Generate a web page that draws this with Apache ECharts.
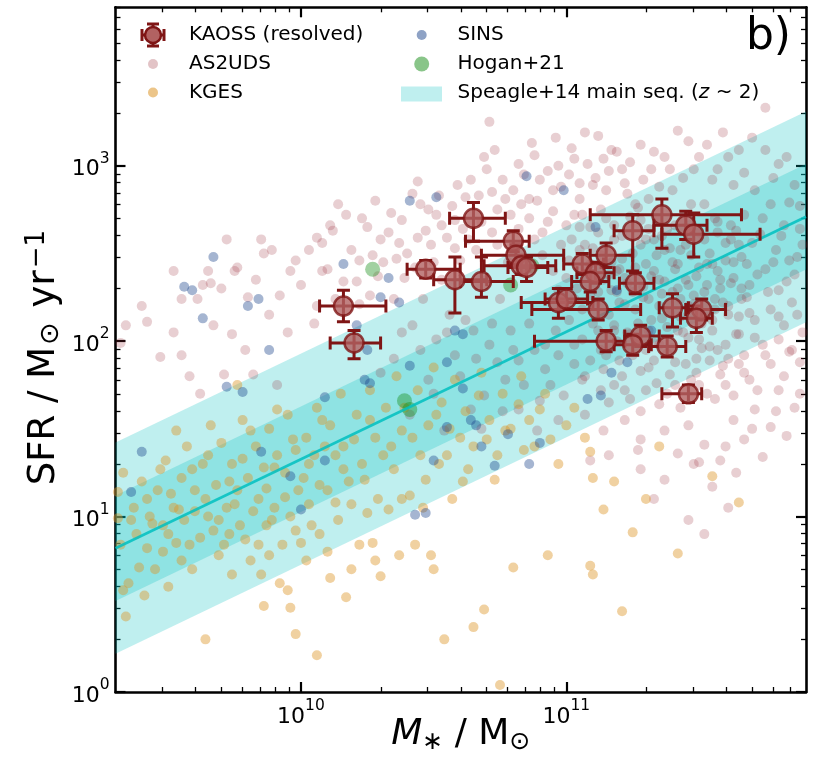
<!DOCTYPE html>
<html><head><meta charset="utf-8">
<script src="https://cdn.jsdelivr.net/npm/echarts@6/dist/echarts.min.js"></script>
<style>html,body{margin:0;padding:0;background:#fff}#c{width:813px;height:760px}</style>
</head><body><div id="c"></div>
<script>
// ---------- DATA (log10 M*, log10 SFR) ----------
const xMajorTicks = [1e10, 1e11];
const xMajorLabels = {'10000000000':'10', '100000000000':'11'};
const xMinorTicks = [3e9,4e9,5e9,6e9,7e9,8e9,9e9,2e10,3e10,4e10,5e10,6e10,7e10,8e10,9e10,2e11,3e11,4e11,5e11,6e11,7e11];
const yMajorTicks = [1, 10, 100, 1000];
const yMajorLabels = {'1':'0','10':'1','100':'2','1000':'3'};
const yMinorTicks = [2,3,4,5,6,7,8,9,20,30,40,50,60,70,80,90,200,300,400,500,600,700,800,900,2000,3000,4000,5000,6000,7000,8000];

// Speagle+14 main sequence (z~2)
const msMass = [2e9, 8e11];
const msSFR = [6.6, 512];
const msInnerLo = [3.3, 256];
const msInnerHi = [13.2, 1022];
const msOuterLo = [1.65, 128];
const msOuterHi = [26.4, 2040];

// KAOSS: logM, logSFR, logM_lo, logM_hi, logSFR_lo, logSFR_hi
const kaoss = [
[10.65,2.70,10.56,10.77,2.57,2.79],[10.16,2.20,10.07,10.32,2.11,2.29],[10.20,1.99,10.11,10.30,1.90,2.06],
[10.47,2.41,10.40,10.60,2.36,2.46],[10.58,2.35,10.50,10.70,2.16,2.48],[10.68,2.34,10.60,10.80,2.25,2.48],
[10.80,2.57,10.62,10.86,2.51,2.63],[10.81,2.49,10.68,10.99,2.44,2.55],[10.83,2.43,10.69,10.96,2.38,2.48],
[10.85,2.42,10.78,10.93,2.34,2.48],[11.36,2.72,11.09,11.66,2.53,2.81],[11.45,2.66,11.33,11.53,2.58,2.74],
[11.48,2.61,11.36,11.73,2.48,2.73],[11.25,2.63,11.18,11.33,2.40,2.72],[11.15,2.49,11.09,11.25,2.42,2.56],
[11.06,2.44,10.99,11.14,2.38,2.50],[11.11,2.39,11.04,11.18,2.33,2.45],[11.09,2.34,11.02,11.16,2.28,2.40],
[11.26,2.33,11.20,11.33,2.27,2.39],[10.97,2.22,10.83,11.10,2.13,2.30],[11.00,2.24,10.92,11.08,2.18,2.30],
[11.12,2.18,10.87,11.28,2.12,2.24],[11.40,2.19,11.35,11.46,2.08,2.27],[11.51,2.18,11.45,11.60,2.12,2.24],
[11.49,2.13,11.43,11.55,2.05,2.20],[11.15,2.00,10.88,11.22,1.94,2.06],[11.28,2.03,11.22,11.35,1.97,2.09],
[11.25,1.98,11.18,11.32,1.92,2.04],[11.38,1.97,11.31,11.45,1.91,2.03],[11.46,1.70,11.36,11.51,1.65,1.75]
];

const as2uds = [
[9.34,2.09],[9.42,2.11],[9.55,1.92],[9.55,2.24],[9.61,2.24],[9.65,2.40],[9.66,2.33],[9.75,2.40],[9.76,2.42],
[9.67,2.09],[9.74,2.04],[9.79,1.95],[9.86,2.50],[9.89,2.52],[9.92,2.26],[9.98,2.46],[9.85,2.58],[9.71,1.81],
[9.82,1.81],[9.91,1.75],[9.32,1.99],[9.47,1.91],[10.06,2.59],[10.08,2.56],[10.14,2.78],[10.06,2.20],
[10.17,2.72],[10.23,2.70],[10.25,2.65],[10.30,2.58],[10.28,2.80],[10.34,2.73],[10.37,2.56],[10.31,2.45],
[10.39,2.36],[10.21,2.34],[10.16,2.34],[10.22,2.46],[10.42,2.84],[10.45,2.78],[10.48,2.75],[10.44,2.59],
[10.49,2.55],[10.53,2.66],[10.58,2.69],[10.52,2.83],[10.59,2.89],[10.64,2.92],[10.70,2.98],[10.67,2.83],
[10.72,2.85],[10.71,3.25],[10.73,3.09],[10.77,2.81],[10.79,2.72],[10.82,2.64],[10.82,3.01],[10.88,3.06],
[10.90,2.92],[10.95,2.86],[10.97,3.00],[11.02,3.10],[10.93,2.68],[10.88,2.58],[10.91,2.49],[10.53,2.35],
[10.58,2.53],[10.63,2.58],[10.74,2.55],[10.70,2.35],[10.86,2.81],[10.44,2.91],[10.26,2.26],[10.35,2.24],
[10.46,2.24],[10.22,2.21],[10.42,2.09],[10.56,2.15],[10.75,2.24],
[11.07,3.19],[11.14,3.04],[11.17,3.09],[11.21,2.98],[11.28,3.12],[11.32,2.98],[11.37,3.05],[11.46,3.14],
[11.50,3.05],[11.59,3.19],[11.65,3.09],[11.75,3.33],[11.75,3.09],[11.80,3.01],[11.86,2.89],[11.10,2.89],
[11.05,2.81],[11.13,2.75],[11.23,2.84],[11.31,2.81],[11.40,2.86],[11.55,2.92],[11.63,2.89],[11.71,2.86],
[11.84,2.79],[11.88,2.64],
[11.03,2.72],[11.09,2.65],[11.18,2.58],[11.28,2.69],[11.33,2.58],[11.38,2.64],[11.43,2.52],[11.52,2.78],
[11.57,2.68],[11.62,2.58],[11.67,2.72],[11.73,2.61],[11.79,2.52],[11.84,2.46],[11.89,2.55],[11.77,2.78],
[11.82,2.66],[11.01,2.46],[11.07,2.55],[11.13,2.49],[11.20,2.41],[11.30,2.44],[11.35,2.35],[11.41,2.41],
[11.46,2.32],[11.53,2.44],[11.58,2.35],[11.63,2.45],[11.69,2.32],[11.75,2.41],[11.80,2.29],[11.86,2.38],
[10.97,2.29],[11.03,2.24],[11.09,2.26],[11.17,2.29],[11.22,2.21],[11.31,2.24],[11.36,2.13],[11.43,2.24],
[11.48,2.21],[11.56,2.24],[11.61,2.15],[11.66,2.24],[11.71,2.12],[11.77,2.18],[11.82,2.09],[11.87,2.15],
[10.96,2.06],[11.01,2.12],[11.06,2.01],[11.12,2.06],[11.18,2.09],[11.24,2.04],[11.31,2.06],[11.35,1.98],
[11.42,2.06],[11.50,2.01],[11.55,2.06],[11.60,1.98],[11.65,2.04],[11.74,1.98],[11.80,2.01],[11.85,1.95],
[10.97,1.92],[11.03,1.87],[11.09,1.89],[11.14,1.84],[11.20,1.89],[11.28,1.83],[11.33,1.89],[11.39,1.81],
[11.45,1.87],[11.54,1.89],[11.58,1.81],[11.65,1.87],[11.69,1.78],[11.77,1.87],[11.84,1.94],
[10.94,1.75],[10.99,1.69],[11.06,1.78],[11.13,1.72],[11.18,1.75],[11.24,1.67],[11.30,1.72],[11.35,1.64],
[11.41,1.75],[11.50,1.75],[11.56,1.67],[11.63,1.69],[11.71,1.61],[11.80,1.72],
[10.97,1.55],[11.07,1.58],[11.14,1.49],[11.22,1.55],[11.28,1.44],[11.37,1.49],[11.46,1.52],[11.52,1.41],
[11.58,1.32],[11.67,1.44],[11.77,1.51],[11.09,1.32],[11.16,1.35],[11.28,1.27],[11.37,1.21],[11.50,1.31],
[11.46,0.98],[10.51,2.01],[10.58,1.92],[10.65,2.06],[10.71,1.98],[10.79,2.06],[10.82,1.89],[10.88,1.95],
[10.92,1.84],[10.77,1.78],[10.69,1.69],[10.64,1.61],[10.82,1.61],[10.89,1.49],[10.48,1.78],[10.41,1.58],[10.54,1.49],
[10.10,2.41],[10.12,2.63],[10.19,2.52],[10.27,2.49],[10.29,2.37],[10.33,2.62],[10.36,2.47],[10.38,2.69],
[10.40,2.50],[10.43,2.42],[10.47,2.63],[10.50,2.45],[10.51,2.72],[10.55,2.59],[10.57,2.77],[10.60,2.46],
[10.61,2.64],[10.62,2.82],[10.66,2.52],[10.68,2.68],[10.69,3.05],[10.72,2.62],[10.74,2.75],[10.76,2.92],
[10.78,2.45],[10.80,2.86],[10.83,2.78],[10.84,2.95],[10.86,2.70],[10.87,3.13],[10.89,2.80],[10.91,2.62],
[10.93,2.97],[10.95,2.74],[10.96,3.16],[10.98,2.88],[11.00,2.66],[11.01,2.95],[11.03,3.04],[11.05,2.90],
[11.06,2.72],[11.08,3.01],[11.11,2.93],[11.12,3.17],[11.15,2.86],[11.16,2.97],[11.19,3.08],[11.22,2.90],
[11.24,3.02],[11.26,2.78],[11.29,2.92],[11.33,3.08],[11.35,2.88],[11.39,2.98],[11.42,3.20],[11.44,2.93],
[11.48,2.98],[11.53,3.12],[11.57,2.98],[11.61,3.05],[11.67,2.96],[11.70,3.16],[11.78,2.93],[11.83,3.05],[11.88,2.77],
[10.95,2.40],[10.98,2.55],[11.00,2.36],[11.02,2.58],[11.04,2.30],[11.05,2.65],[11.08,2.41],[11.10,2.53],
[11.11,2.21],[11.12,2.62],[11.14,2.35],[11.15,2.70],[11.16,2.15],[11.17,2.45],[11.19,2.28],[11.21,2.60],
[11.22,2.36],[11.23,2.05],[11.25,2.50],[11.26,2.18],[11.27,2.76],[11.29,2.31],[11.30,2.58],[11.32,2.12],
[11.33,2.40],[11.34,2.70],[11.36,2.27],[11.37,2.52],[11.38,1.93],[11.39,2.16],[11.40,2.45],[11.41,2.66],
[11.42,2.30],[11.44,2.05],[11.45,2.55],[11.46,2.20],[11.47,2.78],[11.49,2.37],[11.50,2.62],[11.51,1.96],
[11.52,2.28],[11.54,2.50],[11.55,2.12],[11.56,2.70],[11.57,2.40],[11.59,2.22],[11.60,2.56],[11.61,1.90],
[11.62,2.33],[11.64,2.63],[11.65,2.14],[11.66,2.48],[11.68,2.25],[11.70,2.56],[11.71,2.02],[11.72,2.38],
[11.74,2.70],[11.76,2.28],[11.78,2.45],[11.80,2.14],[11.81,2.60],[11.83,2.34],[11.85,2.22],[11.87,2.48],[11.89,2.05],
[11.03,1.98],[11.07,1.80],[11.10,2.10],[11.13,1.95],[11.16,1.65],[11.19,2.00],[11.21,1.80],[11.25,1.92],
[11.28,1.60],[11.31,1.85],[11.34,1.76],[11.38,1.70],[11.40,1.96],[11.43,1.62],[11.47,1.78],[11.49,1.90],
[11.53,1.70],[11.57,1.95],[11.60,1.75],[11.63,1.55],[11.67,1.82],[11.72,1.72],[11.75,1.92],[11.82,1.80],
[11.86,1.62],[11.88,1.88],
[11.27,1.38],[11.33,1.10],[11.42,1.36],[11.48,1.30],[11.55,1.17],[11.60,1.40],[11.64,1.25],[11.70,1.50],
[11.74,1.34],[11.79,1.60],[11.83,1.46],[11.88,1.70],[11.52,0.90],[11.61,1.05],
[10.45,1.95],[10.50,1.70],[10.55,2.05],[10.60,1.80],[10.62,2.12],[10.66,1.90],[10.68,1.50],[10.72,2.10],
[10.74,1.88],[10.76,1.60],[10.80,1.95],[10.84,1.75],[10.86,2.10],[10.90,1.66],[10.92,1.98],[10.35,1.90],
[10.38,2.05],[10.30,1.82],
[9.40,2.20],[9.52,2.05],[9.58,1.80],[9.63,2.32],[9.70,2.30],[9.80,2.25],[9.83,2.35],[9.88,2.15],[9.95,2.05],
[9.96,2.40],[10.00,2.32],[10.03,2.52],[10.05,2.10],[10.08,2.40],[10.11,2.66],[10.13,2.24],[9.62,1.70],[9.72,2.58],[9.52,2.40],
[11.14,2.52],[11.16,2.38],[11.18,2.66],[11.20,2.22],[11.21,2.47],[11.23,2.33],[11.24,2.71],[11.26,2.42],
[11.27,2.10],[11.28,2.55],[11.29,2.25],[11.31,2.64],[11.32,2.37],[11.33,1.99],[11.34,2.49],[11.35,2.20],
[11.36,2.60],[11.37,2.34],[11.38,2.08],[11.39,2.53],[11.40,2.28],[11.41,1.88],[11.42,2.44],[11.43,2.14],
[11.44,2.68],[11.45,2.35],[11.46,2.02],[11.47,2.49],[11.48,2.26],[11.49,1.82],[11.50,2.42],[11.51,2.10],
[11.52,2.58],[11.53,2.32],[11.54,1.97],[11.55,2.44],[11.56,2.18],[11.57,2.62],[11.58,2.30],[11.59,1.86],
[11.60,2.46],[11.61,2.20],[11.62,2.66],[11.63,2.36],[11.64,2.04],[11.65,2.55],[11.66,2.30],[11.67,1.92],
[11.68,2.44],[11.69,2.16],[11.15,1.92],[11.18,2.06],[11.22,1.72],[11.25,2.28],[11.30,1.95],[11.19,2.40],
[11.12,2.28],[11.09,2.44],[11.06,2.18],[11.05,2.52]
];

const kges = [
[9.31,1.14],[9.31,0.99],[9.32,0.84],[9.33,0.58],[9.34,0.43],[9.36,0.98],[9.39,0.71],[9.42,1.10],[9.42,0.82],
[9.44,0.96],[9.47,1.27],[9.48,0.80],[9.50,0.90],[9.51,1.13],[9.53,1.49],[9.54,1.04],[9.55,0.75],[9.58,0.84],
[9.59,1.27],[9.60,1.03],[9.64,0.30],[9.64,1.10],[9.65,1.35],[9.67,0.92],[9.69,0.98],[9.71,0.84],[9.73,1.20],
[9.74,0.67],[9.75,1.07],[9.76,1.75],[9.78,1.33],[9.79,0.87],[9.81,1.49],[9.82,1.03],[9.84,0.84],[9.85,0.67],
[9.86,0.49],[9.87,1.16],[9.88,0.78],[9.89,0.98],[9.90,1.28],[9.91,1.61],[9.93,0.84],[9.94,1.11],[9.95,0.58],
[9.96,0.48],[9.97,1.44],[9.98,0.92],[9.98,0.33],[10.01,1.22],[10.02,0.75],[10.03,1.07],[10.05,1.35],[10.06,0.21],
[10.07,0.90],[10.08,1.55],[10.10,1.15],[10.11,0.65],[10.13,1.35],[10.14,0.98],[10.16,1.27],[10.17,0.54],
[10.19,1.07],[10.20,1.44],[10.22,0.84],[10.24,1.21],[10.26,1.55],[10.27,0.85],[10.28,0.75],[10.30,0.66],
[10.31,1.35],[10.33,1.04],[10.35,1.27],[10.37,0.78],[10.38,1.49],[10.41,1.12],[10.43,0.84],[10.45,1.35],
[10.47,1.21],[10.49,0.78],[10.50,0.70],[10.51,1.58],[10.54,0.30],[10.55,1.35],[10.57,1.10],[10.60,1.45],
[10.63,1.27],[10.65,0.37],[10.67,1.69],[10.69,0.47],[10.70,1.44],[10.73,1.21],[10.77,1.49],[10.80,0.71],
[10.82,1.64],[10.84,1.38],[10.86,1.55],[10.90,1.61],[10.93,0.78],[10.94,1.44],[11.00,1.52],[10.75,0.04],
[11.09,1.37],[11.10,1.22],[11.14,1.04],[11.25,0.91],[11.09,0.72],[11.10,0.67],[11.21,0.46],[11.42,0.79],
[11.55,1.23],[11.65,1.08],
[9.33,1.25],[9.35,0.62],[9.37,1.05],[9.38,0.90],[9.40,1.20],[9.41,0.55],[9.43,1.00],[9.45,0.70],[9.46,1.15],
[9.48,0.95],[9.49,1.32],[9.50,0.60],[9.52,1.05],[9.53,0.85],[9.55,1.22],[9.56,0.98],[9.57,1.40],[9.59,0.70],
[9.60,1.15],[9.62,0.88],[9.63,1.30],[9.65,1.00],[9.66,1.52],[9.68,1.18],[9.69,0.78],[9.70,1.42],[9.72,1.05],
[9.73,0.90],[9.74,1.30],[9.76,1.15],[9.77,0.95],[9.78,1.55],[9.80,1.22],[9.81,0.75],[9.83,1.40],[9.84,1.10],
[9.86,1.28],[9.87,0.95],[9.88,1.50],[9.90,1.05],[9.91,1.35],[9.92,0.62],[9.94,1.25],[9.95,1.58],[9.96,1.00],
[9.98,1.38],[9.99,1.15],[10.00,0.85],[10.02,1.45],[10.03,1.30],[10.04,0.95],[10.06,1.62],[10.07,1.18],
[10.09,1.40],[10.10,0.80],[10.11,1.52],[10.13,1.08],[10.15,1.70],[10.16,1.40],[10.18,1.20],[10.19,0.70],
[10.21,1.58],[10.23,1.30],[10.25,1.02],[10.26,1.72],[10.28,1.45],[10.29,1.10],[10.32,1.62],[10.34,1.40],
[10.36,1.80],[10.38,1.10],[10.39,1.62],[10.42,1.45],[10.44,1.72],[10.46,1.05],[10.48,1.52],[10.50,1.85],
[10.52,1.30],[10.53,1.65],[10.56,1.50],[10.58,1.78],[10.61,1.20],[10.62,1.60],[10.65,1.40],[10.68,1.82],
[10.71,1.55],[10.74,1.35],[10.76,1.70],[10.79,1.50],[10.83,1.80],[10.88,1.40],[10.92,1.70],[10.97,1.30],
[11.03,1.62],[11.07,1.45],[11.18,1.20],[11.30,1.10],[11.35,1.40]
];

const sins = [
[9.36,1.14],[9.40,1.37],[9.56,2.31],[9.59,2.29],[9.63,2.13],[9.67,2.48],[9.84,2.24],[9.72,1.74],[9.78,1.71],
[9.85,1.37],[9.96,1.23],[10.00,1.04],[10.09,1.68],[10.09,1.32],[10.16,2.44],[10.24,1.78],[10.26,1.76],
[10.30,2.25],[10.33,2.36],[10.41,2.80],[10.51,2.82],[10.58,2.06],[10.61,2.04],[10.64,1.55],[10.66,1.52],
[10.78,1.47],[10.85,2.94],[10.99,2.86],[11.11,2.65],[11.08,1.67],[11.13,1.69],
[10.21,2.09],[10.25,1.95],[10.37,2.22],[10.41,1.86],[10.55,1.88],[10.61,1.73],[10.68,1.40],[10.73,1.29],
[10.43,1.01],[10.47,1.02],[10.55,1.51],[10.50,1.32],[10.86,1.30],[10.90,1.42],[11.17,1.82],[11.23,1.88],
[11.32,2.06],[11.19,2.29],[9.80,2.20],[9.88,1.95]
];

const hogan = [[10.27,2.41],[10.79,2.32],[10.87,2.43],[10.39,1.66],[10.41,1.61]];

// ---------- CHART ----------
const P = v => Math.pow(10, v);
const toXY = arr => arr.map(p => [P(p[0]), P(p[1])]);
const FONT = 'DejaVu Sans';
const X0 = 2e9, X1 = 8e11, Y0 = 1, Y1 = 8000;

function xAxisDef(pos, major, showLabel) {
  return {
    type: 'log', logBase: 10, min: X0, max: X1, position: pos, gridIndex: 0,
    axisLine: {show: major, onZero: false, lineStyle: {color: '#000', width: 2.6}},
    axisTick: {show: true, inside: true, length: major ? 10 : 5,
      lineStyle: {color: '#000', width: major ? 2.2 : 1.3},
      customValues: major ? xMajorTicks : xMinorTicks},
    minorTick: {show: false},
    axisLabel: {show: showLabel, customValues: xMajorTicks, margin: 6,
      formatter: v => '{b|10}{s|' + xMajorLabels[String(Math.round(v))] + '}',
      rich: {b: {fontFamily: FONT, fontSize: 22, color: '#000', lineHeight: 30, verticalAlign: 'bottom'},
             s: {fontFamily: FONT, fontSize: 15.5, color: '#000', lineHeight: 18, verticalAlign: 'top'}}},
    splitLine: {show: false},
    name: showLabel ? '{i|M}{sub|\u2217}{t| / M}{sub|\u2299}' : '',
    nameLocation: 'middle', nameGap: 23, nameMoveOverlap: false,
    nameTextStyle: {rich: {
      i: {fontFamily: FONT, fontSize: 36, fontStyle: 'italic', color: '#000', lineHeight: 40, verticalAlign: 'middle'},
      t: {fontFamily: FONT, fontSize: 36, color: '#000', lineHeight: 40, verticalAlign: 'middle'},
      sub: {fontFamily: FONT, fontSize: 25, color: '#000', lineHeight: 14, verticalAlign: 'bottom'}}}
  };
}
function yAxisDef(pos, major, showLabel) {
  return {
    type: 'log', logBase: 10, min: Y0, max: Y1, position: pos, gridIndex: 0,
    axisLine: {show: major, onZero: false, lineStyle: {color: '#000', width: 2.6}},
    axisTick: {show: true, inside: true, length: major ? 10 : 5,
      lineStyle: {color: '#000', width: major ? 2.2 : 1.3},
      customValues: major ? yMajorTicks : yMinorTicks},
    minorTick: {show: false},
    axisLabel: {show: showLabel, customValues: yMajorTicks, margin: 6,
      formatter: v => '{b|10}{s|' + yMajorLabels[String(Math.round(v))] + '}',
      rich: {b: {fontFamily: FONT, fontSize: 22, color: '#000', lineHeight: 30, verticalAlign: 'bottom'},
             s: {fontFamily: FONT, fontSize: 15.5, color: '#000', lineHeight: 18, verticalAlign: 'top'}}},
    splitLine: {show: false},
    name: showLabel ? '{t|SFR / M}{sub|\u2299}{t| yr}{sup|\u22121}' : '',
    nameLocation: 'middle', nameGap: 51, nameRotate: 90, nameMoveOverlap: false,
    nameTextStyle: {rich: {
      t: {fontFamily: FONT, fontSize: 37, color: '#000', lineHeight: 40, verticalAlign: 'middle'},
      sub: {fontFamily: FONT, fontSize: 27, color: '#000', lineHeight: 14, verticalAlign: 'bottom', padding: [0, 3, 0, 2]},
      sup: {fontFamily: FONT, fontSize: 26, color: '#000', lineHeight: 20, verticalAlign: 'top', padding: [0, 16, 0, 2]}}}
  };
}

function bandSeries(lo, hi, color) {
  return {
    type: 'custom', z: 1, silent: true, clip: true,
    xAxisIndex: 0, yAxisIndex: 0,
    data: msMass.map((m, i) => [m, msSFR[i]]),
    encode: {x: 0, y: 1},
    renderItem: (params, api) => {
      if (params.dataIndex !== 0) return null;
      const pts = [];
      for (let i = 0; i < msMass.length; i++) pts.push(api.coord([msMass[i], hi[i]]));
      for (let i = msMass.length - 1; i >= 0; i--) pts.push(api.coord([msMass[i], lo[i]]));
      return {type: 'polygon', shape: {points: pts}, style: {fill: color}};
    }
  };
}

const KRED = '#7f1515';
const kData = kaoss.map(r => r.map(P));
const LFONT = '20px "DejaVu Sans"';

const option = {
  backgroundColor: '#fff',
  animation: false,
  grid: {left: 115.5, right: 7, top: 7.3, bottom: 68, containLabel: false, outerBoundsMode: 'none'},
  xAxis: [xAxisDef('bottom', true, true), xAxisDef('bottom', false, false),
          xAxisDef('top', true, false), xAxisDef('top', false, false)],
  yAxis: [yAxisDef('left', true, true), yAxisDef('left', false, false),
          yAxisDef('right', true, false), yAxisDef('right', false, false)],
  series: [
    bandSeries(msOuterLo, msOuterHi, 'rgba(0,191,191,0.25)'),
    bandSeries(msInnerLo, msInnerHi, 'rgba(0,191,191,0.25)'),
    {type: 'scatter', name: 'AS2UDS', z: 2, symbolSize: 10, data: toXY(as2uds),
     itemStyle: {color: 'rgba(150,40,52,0.28)'}, silent: true},
    {type: 'scatter', name: 'KGES', z: 2, symbolSize: 10, data: toXY(kges),
     itemStyle: {color: 'rgba(220,150,40,0.55)'}, silent: true},
    {type: 'scatter', name: 'SINS', z: 2, symbolSize: 10, data: toXY(sins),
     itemStyle: {color: 'rgba(30,70,140,0.5)'}, silent: true},
    {type: 'scatter', name: 'Hogan+21', z: 2, symbolSize: 15, data: toXY(hogan),
     itemStyle: {color: 'rgba(20,140,20,0.5)'}, silent: true},
    {type: 'line', name: 'Speagle+14', z: 3, showSymbol: false, symbol: 'none',
     data: msMass.map((m, i) => [m, msSFR[i]]),
     lineStyle: {color: 'rgba(0,191,191,0.85)', width: 2.6}, silent: true},
    {type: 'custom', name: 'KAOSS err', z: 4, silent: true, clip: true,
     data: kData, encode: {x: 0, y: 1},
     renderItem: (params, api) => {
       const c = api.coord([api.value(0), api.value(1)]);
       const xl = api.coord([api.value(2), api.value(1)])[0];
       const xr = api.coord([api.value(3), api.value(1)])[0];
       const yb = api.coord([api.value(0), api.value(4)])[1];
       const yt = api.coord([api.value(0), api.value(5)])[1];
       const st = {stroke: KRED, lineWidth: 3};
       const cap = 6.5;
       return {type: 'group', children: [
         {type: 'line', shape: {x1: xl, y1: c[1], x2: xr, y2: c[1]}, style: st},
         {type: 'line', shape: {x1: c[0], y1: yb, x2: c[0], y2: yt}, style: st},
         {type: 'line', shape: {x1: xl, y1: c[1] - cap, x2: xl, y2: c[1] + cap}, style: st},
         {type: 'line', shape: {x1: xr, y1: c[1] - cap, x2: xr, y2: c[1] + cap}, style: st},
         {type: 'line', shape: {x1: c[0] - cap, y1: yb, x2: c[0] + cap, y2: yb}, style: st},
         {type: 'line', shape: {x1: c[0] - cap, y1: yt, x2: c[0] + cap, y2: yt}, style: st}
       ]};
     }},
    {type: 'scatter', name: 'KAOSS (resolved)', z: 5, symbolSize: 19,
     data: kData.map(r => [r[0], r[1]]),
     itemStyle: {color: '#b26262', borderColor: KRED, borderWidth: 2.5}, silent: true}
  ],
  graphic: [
    {type: 'line', z: 10, shape: {x1: 142, y1: 35, x2: 164, y2: 35}, style: {stroke: KRED, lineWidth: 3}},
    {type: 'line', z: 10, shape: {x1: 153, y1: 24, x2: 153, y2: 46}, style: {stroke: KRED, lineWidth: 3}},
    {type: 'line', z: 10, shape: {x1: 142, y1: 29, x2: 142, y2: 41}, style: {stroke: KRED, lineWidth: 3}},
    {type: 'line', z: 10, shape: {x1: 164, y1: 29, x2: 164, y2: 41}, style: {stroke: KRED, lineWidth: 3}},
    {type: 'line', z: 10, shape: {x1: 147, y1: 24, x2: 159, y2: 24}, style: {stroke: KRED, lineWidth: 3}},
    {type: 'line', z: 10, shape: {x1: 147, y1: 46, x2: 159, y2: 46}, style: {stroke: KRED, lineWidth: 3}},
    {type: 'circle', z: 11, shape: {cx: 153, cy: 35, r: 8}, style: {fill: '#b26262', stroke: KRED, lineWidth: 2.5}},
    {type: 'text', z: 10, x: 189, y: 35, style: {text: 'KAOSS (resolved)', font: LFONT, fill: '#000', verticalAlign: 'middle'}},
    {type: 'circle', z: 10, shape: {cx: 153, cy: 64, r: 5}, style: {fill: 'rgba(150,40,52,0.28)'}},
    {type: 'text', z: 10, x: 189, y: 64, style: {text: 'AS2UDS', font: LFONT, fill: '#000', verticalAlign: 'middle'}},
    {type: 'circle', z: 10, shape: {cx: 153, cy: 92.5, r: 5}, style: {fill: 'rgba(220,150,40,0.55)'}},
    {type: 'text', z: 10, x: 189, y: 92.5, style: {text: 'KGES', font: LFONT, fill: '#000', verticalAlign: 'middle'}},
    {type: 'circle', z: 10, shape: {cx: 421.7, cy: 35, r: 5}, style: {fill: 'rgba(30,70,140,0.5)'}},
    {type: 'text', z: 10, x: 457.5, y: 35, style: {text: 'SINS', font: LFONT, fill: '#000', verticalAlign: 'middle'}},
    {type: 'circle', z: 10, shape: {cx: 421.7, cy: 64, r: 7.5}, style: {fill: 'rgba(20,140,20,0.5)'}},
    {type: 'text', z: 10, x: 457.5, y: 64, style: {text: 'Hogan+21', font: LFONT, fill: '#000', verticalAlign: 'middle'}},
    {type: 'rect', z: 10, shape: {x: 401, y: 86.5, width: 41, height: 15}, style: {fill: 'rgba(0,191,191,0.25)'}},
    {type: 'text', z: 10, x: 457.5, y: 92.5, style: {
      rich: {t: {font: LFONT, fill: '#000'}, i: {font: 'italic 20px "DejaVu Sans"', fill: '#000'}},
      text: '{t|Speagle+14 main seq. (}{i|z}{t| ~ 2)}', verticalAlign: 'middle'}},
    {type: 'text', z: 10, x: 791, y: 38, style: {text: 'b)', font: '44px "DejaVu Sans"', fill: '#000', align: 'right', verticalAlign: 'middle'}}
  ]
};

const chart = echarts.init(document.getElementById('c'), null, {renderer: 'canvas'});
chart.setOption(option);
</script>
</body></html>
